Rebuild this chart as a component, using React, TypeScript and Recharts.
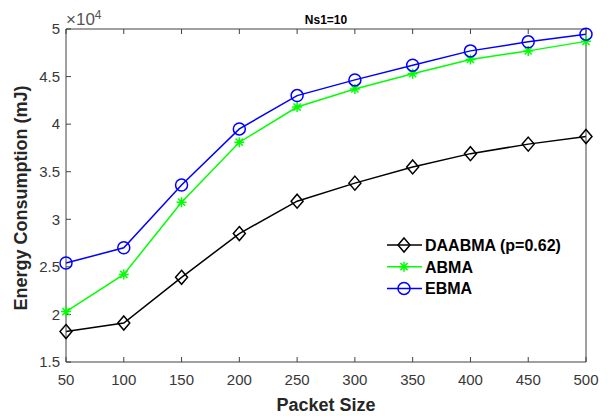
import React from 'react';
import { LineChart, Line, XAxis, YAxis, Legend, Label } from 'recharts';

// packet sizes on the x axis
const packetSizes = [50, 100, 150, 200, 250, 300, 350, 400, 450, 500];
// energy consumption in mJ (axis is x10^4)
const daabma = [18200, 19100, 23900, 28500, 31900, 33800, 35500, 36900, 37900, 38700];
const abma = [20300, 24200, 31800, 38100, 41800, 43700, 45300, 46800, 47700, 48700];
const ebma = [25400, 27000, 33600, 39500, 43000, 44650, 46200, 47700, 48650, 49450];
const yTicks = [15000, 20000, 25000, 30000, 35000, 40000, 45000, 50000];

const data = packetSizes.map((x, i) => ({ x, daabma: daabma[i], abma: abma[i], ebma: ebma[i] }));

const FONT = '"Liberation Sans", Arial, Helvetica, sans-serif';
const AXIS = '#404040';
const TEXT = '#383838';

const diamond = (cx: number, cy: number) => `M${cx} ${cy - 7}L${cx + 6} ${cy}L${cx} ${cy + 7}L${cx - 6} ${cy}Z`;
const star = (cx: number, cy: number) => {
    const r = 5;
    const d = r * 0.72;
    return `M${cx - r} ${cy}H${cx + r}M${cx} ${cy - r}V${cy + r}M${cx - d} ${cy - d}L${cx + d} ${cy + d}M${cx - d} ${cy + d}L${cx + d} ${cy - d}`;
};

const DiamondDot = (p: any) => (
    <path key={`dm-${p.index}`} d={diamond(p.cx, p.cy)} fill="none" stroke="#000" strokeWidth={1.5} />
);
const StarDot = (p: any) => (
    <path key={`st-${p.index}`} d={star(p.cx, p.cy)} fill="none" stroke="#00ff00" strokeWidth={1.5} />
);
const CircleDot = (p: any) => (
    <circle key={`ci-${p.index}`} cx={p.cx} cy={p.cy} r={6} fill="none" stroke="#0000ff" strokeWidth={1.5} />
);

const legendItems = [
    { name: 'DAABMA (p=0.62)', color: '#000', marker: 'diamond' },
    { name: 'ABMA', color: '#00ff00', marker: 'star' },
    { name: 'EBMA', color: '#0000ff', marker: 'circle' },
];

const renderLegend = () => (
    <svg width={200} height={70} style={{ display: 'block' }}>
        {legendItems.map((it, i) => {
            const cy = 11 + i * 21.7;
            const cx = 18;
            return (
                <g key={it.name}>
                    <line x1={1} x2={36} y1={cy} y2={cy} stroke={it.color} strokeWidth={1.5} />
                    {it.marker === 'diamond' && <path d={diamond(cx, cy)} fill="none" stroke={it.color} strokeWidth={1.5} />}
                    {it.marker === 'star' && <path d={star(cx, cy)} fill="none" stroke={it.color} strokeWidth={1.5} />}
                    {it.marker === 'circle' && <circle cx={cx} cy={cy} r={6} fill="none" stroke={it.color} strokeWidth={1.5} />}
                    <text x={39} y={cy + 6} fontFamily={FONT} fontSize={16} fontWeight="bold" fill="#000">
                        {it.name}
                    </text>
                </g>
            );
        })}
    </svg>
);

const tickStyle = { fill: TEXT, fontSize: 15, fontFamily: FONT };

export default function App() {
    return (
        <div style={{ position: 'absolute', left: 0, top: 0, width: 611, height: 416, background: '#fff' }}>
            <LineChart width={611} height={416} data={data} margin={{ top: 28, right: 24, bottom: 14, left: 6 }}>
                <XAxis
                    dataKey="x"
                    type="number"
                    domain={[50, 500]}
                    ticks={packetSizes}
                    height={40}
                    stroke={AXIS}
                    tickSize={-5}
                    tickMargin={17}
                    tick={tickStyle}
                >
                    <Label
                        content={() => (
                            <text x={326} y={411} textAnchor="middle" fontFamily={FONT} fontSize={18} fontWeight="bold" fill="#262626">
                                Packet Size
                            </text>
                        )}
                    />
                </XAxis>
                <XAxis
                    xAxisId="top"
                    orientation="top"
                    dataKey="x"
                    type="number"
                    domain={[50, 500]}
                    ticks={packetSizes}
                    height={1}
                    stroke={AXIS}
                    tickSize={-5}
                    tickFormatter={() => ''}
                >
                    <Label
                        content={() => (
                            <text x={326} y={24} textAnchor="middle" fontFamily={FONT} fontSize={12} fontWeight="bold" fill="#000">
                                Ns1=10
                            </text>
                        )}
                    />
                </XAxis>
                <YAxis
                    type="number"
                    domain={[15000, 50000]}
                    ticks={yTicks}
                    width={60}
                    stroke={AXIS}
                    tickSize={-5}
                    tickMargin={11}
                    tick={tickStyle}
                    tickFormatter={(v: number) => String(v / 10000)}
                >
                    <Label
                        content={() => (
                            <text
                                x={21}
                                y={198}
                                transform="rotate(-90 21 198)"
                                textAnchor="middle"
                                dominantBaseline="central"
                                fontFamily={FONT}
                                fontSize={18}
                                fontWeight="bold"
                                fill="#262626"
                            >
                                Energy Consumption (mJ)
                            </text>
                        )}
                    />
                </YAxis>
                <YAxis
                    yAxisId="right"
                    orientation="right"
                    type="number"
                    domain={[15000, 50000]}
                    ticks={yTicks}
                    width={1}
                    stroke={AXIS}
                    tickSize={-5}
                    tickFormatter={() => ''}
                >
                    <Label
                        content={() => (
                            <text x={66} y={25} fontFamily={FONT} fontSize={17} fill="#555">
                                ×10
                                <tspan fontSize={12} dy={-6}>4</tspan>
                            </text>
                        )}
                    />
                </YAxis>
                <Legend
                    layout="vertical"
                    align="center"
                    verticalAlign="middle"
                    content={renderLegend}
                    wrapperStyle={{ left: 386, top: 234, width: 200, height: 70 }}
                />
                <Line type="linear" dataKey="daabma" stroke="#000" strokeWidth={1.5} dot={DiamondDot} isAnimationActive={false} />
                <Line type="linear" dataKey="abma" stroke="#00ff00" strokeWidth={1.5} dot={StarDot} isAnimationActive={false} />
                <Line type="linear" dataKey="ebma" stroke="#0000ff" strokeWidth={1.5} dot={CircleDot} isAnimationActive={false} />
            </LineChart>
        </div>
    );
}
